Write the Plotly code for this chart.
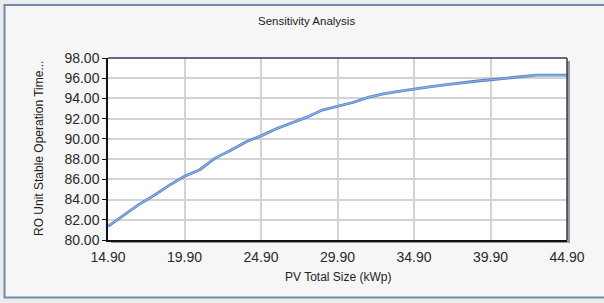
import plotly.graph_objects as go

# Data
pv_size_kwp = [14.9, 15.9, 16.9, 17.9, 18.9, 19.9, 20.9, 21.9, 22.9, 23.9, 24.9,
               25.9, 26.9, 27.9, 28.9, 29.9, 30.9, 31.9, 32.9, 33.9, 34.9,
               35.9, 36.9, 37.9, 38.9, 39.9, 40.9, 41.9, 42.9, 43.9, 44.9]
stable_time = [81.35, 82.4, 83.5, 84.4, 85.4, 86.3, 86.95, 88.1, 88.85, 89.7, 90.3,
               91.0, 91.55, 92.15, 92.85, 93.2, 93.6, 94.1, 94.45, 94.7, 94.95,
               95.15, 95.35, 95.55, 95.7, 95.85, 95.98, 96.1, 96.3, 96.3, 96.3]
x_ticks = [14.9, 19.9, 24.9, 29.9, 34.9, 39.9, 44.9]
y_ticks = [80, 82, 84, 86, 88, 90, 92, 94, 96, 98]

W, H = 604, 303
L, R, T, B = 108, 37, 58, 63
pw, ph = W - L - R, H - T - B

def px_x(p):
    return (p - L) / pw

def px_y(p):
    return (H - B - p) / ph

fig = go.Figure()
fig.add_trace(go.Scatter(x=pv_size_kwp, y=stable_time, mode="lines",
                         line=dict(color="#5a80bd", width=2.8), hoverinfo="skip"))
fig.add_trace(go.Scatter(x=pv_size_kwp, y=stable_time, mode="lines",
                         line=dict(color="#86b4ee", width=1.2), hoverinfo="skip"))

font = "Liberation Sans, Arial, sans-serif"
shapes = [
    # outer frame
    dict(type="rect", xref="paper", yref="paper", layer="below",
         x0=px_x(4.5), x1=px_x(612), y0=px_y(297.5), y1=px_y(5),
         line=dict(color="#7189ad", width=2), fillcolor="#f6f6f6"),
    # plot shadow
    dict(type="rect", xref="paper", yref="paper", layer="below",
         x0=px_x(L + 3), x1=px_x(W - R + 3), y0=px_y(H - B + 3), y1=px_y(T + 3),
         line=dict(width=0), fillcolor="#9a9a9a"),
    # plot area background
    dict(type="rect", xref="paper", yref="paper", layer="below",
         x0=0, x1=1, y0=0, y1=1, line=dict(width=0), fillcolor="#ffffff"),
    # top/right border darker navy
    dict(type="line", xref="paper", yref="paper", x0=0, x1=1, y0=1, y1=1,
         line=dict(color="#2f3b58", width=1.5)),
    dict(type="line", xref="paper", yref="paper", x0=1, x1=1, y0=0, y1=1,
         line=dict(color="#2f3b58", width=1.5)),
]

fig.update_layout(
    width=W, height=H,
    margin=dict(l=L, r=R, t=T, b=B),
    paper_bgcolor="#ececec",
    plot_bgcolor="rgba(0,0,0,0)",
    showlegend=False,
    font=dict(family=font, color="#2a2a2a"),
    shapes=shapes,
    annotations=[
        dict(text="Sensitivity Analysis", xref="paper", yref="paper",
             x=px_x(306), y=px_y(21), xanchor="center", yanchor="middle",
             showarrow=False, font=dict(size=11.5, color="#222222")),
        dict(text="PV Total Size (kWp)", xref="paper", yref="paper",
             x=0.5, y=px_y(277), xanchor="center", yanchor="middle",
             showarrow=False, font=dict(size=12, color="#222222")),
        dict(text="RO Unit Stable Operation Time...", xref="paper", yref="paper",
             x=px_x(39), y=0.5, xanchor="center", yanchor="middle",
             showarrow=False, textangle=-90,
             font=dict(size=12, color="#222222")),
    ],
)
fig.update_xaxes(range=[14.9, 44.9], tickvals=x_ticks, tickformat=".2f",
                 showgrid=True, gridcolor="#d3d3d3", gridwidth=1.6,
                 showline=True, linecolor="#111111", linewidth=1.5,
                 ticks="", ticklabelstandoff=3,
                 tickfont=dict(size=14, color="#2a2a2a"),
                 zeroline=False, fixedrange=True)
fig.update_yaxes(range=[80, 98], tickvals=y_ticks, tickformat=".2f",
                 showgrid=True, gridcolor="#d3d3d3", gridwidth=1.6,
                 showline=True, linecolor="#111111", linewidth=1.5,
                 ticks="outside", ticklen=4, tickcolor="#111111",
                 tickfont=dict(size=14, color="#2a2a2a"),
                 zeroline=False, fixedrange=True)

fig.write_html("out.html", config={"displayModeBar": False},
               post_script="document.body.style.margin='0';document.body.style.overflow='hidden';")
